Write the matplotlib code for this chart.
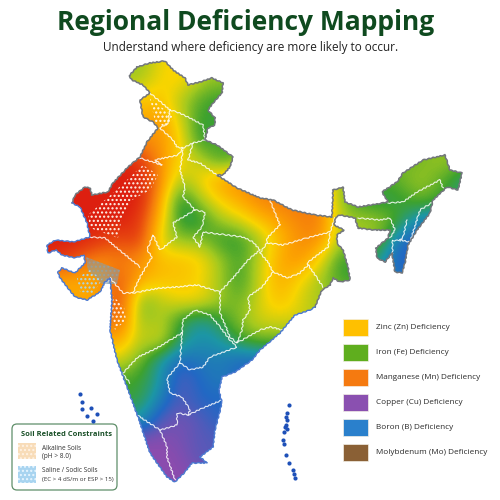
import numpy as np
import matplotlib
matplotlib.use("Agg")
import matplotlib.pyplot as plt
from matplotlib.colors import LinearSegmentedColormap
from matplotlib.patches import Polygon, Rectangle, FancyBboxPatch

TITLE = "Regional Deficiency Mapping"
SUBTITLE = "Understand where deficiency are more likely to occur."
LEGEND_LABELS = ["Zinc (Zn) Deficiency", "Iron (Fe) Deficiency", "Manganese (Mn) Deficiency",
                 "Copper (Cu) Deficiency", "Boron (B) Deficiency", "Molybdenum (Mo) Deficiency"]
LEGEND_COLORS = ["#FFC000", "#5FAE1E", "#F57A10", "#8A50B0", "#2A80CC", "#8A6035"]

# Deficiency index: 0 red ... 4 yellow ... 6 green ... 8 blue, 9 purple
# rows y = 60..480 step 20, columns x = 40..480 step 20 (map units)
FIELD = np.array([
 [5,5,5,5,5,5.2,4.2,3.8,4.6,5,5,5,5,5,5,5,5,5,5,5,5,5,5],
 [5,5,5,5,5,5,4,3.8,4.8,5.2,5,5,5,5,5,5,5,5,5,5,5,5,5],
 [4,4,4,4,3.5,3.6,3.6,4.8,5.8,6.2,6,6,6,6,6,6,6,6,6,6,6,6,6],
 [3,3,3,3,3,3.2,2.6,4.4,6.2,6,6,6,6,6,6,6,6,6,6,6,6,6,6],
 [1,1,1,1,2,2.4,2.5,3.8,6.4,5.6,6,6,6,6,6,6,6,6,6,5.5,5.2,6,6],
 [0,0,0,0,0.2,0.6,2.5,4,4.6,6.2,5.5,4,4,5,5,5,5,5.5,5.5,5.5,5,5.2,6],
 [0,0,0,0,0,0,2.2,5,4,2.8,2.4,2.2,2,2,3,5,5.5,5.8,5.6,5,5.6,6.6,6.6],
 [0,0,0,0,0,0,2.8,6.6,5,3.8,3,2.2,2,1.8,2,5.2,6.2,6.5,6.2,5.5,6,6.5,6.5],
 [0,0,0,0,0,0.6,3.4,6.5,6.4,5,4.4,3.4,2.8,2.2,2,4.8,5,5,6,7.6,7.6,7,7],
 [0,0,0,0.6,1.2,0.6,4.5,5.2,5.2,6.2,6.2,5,3.4,2.4,2.4,5,5,5.5,8,8.2,8,7,7],
 [0.4,0.6,1.6,2.4,2,2.5,3.5,3.5,3.8,5,6,4.6,3,2.5,4,6.2,6,7,8.2,8,8,8,8],
 [3,3,3,3,1.2,3,3.5,3.6,4,5,6.2,4.5,3,4,5,6,6,7,8,8,8,8,8],
 [3,3,3,3,0.6,5.6,4.8,4,4,5,5.6,4.4,3.4,4.4,5,5,5,5,5,5,5,5,5],
 [2.5,2.5,2.5,2.5,1.2,5.4,4.6,6.2,7,6.2,5.2,4.4,4.4,4.4,5,5,5,5,5,5,5,5,5],
 [3,3,3,3,3,4.8,4.3,6.5,7.2,7,6,5.5,5.5,5.5,5,5,5,5,5,5,5,5,5],
 [4.5,4.5,4.5,4.5,4.5,5.5,7,8,7.6,7.5,8,8,8,8,8,8,8,8,8,8,8,8,8],
 [6,6,6,6,6,6,7,8.5,8,7.5,8,8,8,8,8,8,8,8,8,8,8,8,8],
 [6,6,6,6,6,6.2,7.5,8.5,8,8,8,8,8,8,8,8,8,8,8,8,8,8,8],
 [7,7,7,7,7,7,8.5,8.8,8.5,8,8,8,8,8,8,8,8,8,8,8,8,8,8],
 [9,9,9,9,9,9,9,8.8,8.5,8.5,8,8,8,8,8,8,8,8,8,8,8,8,8],
 [9,9,9,9,9,9,9,9,8.5,8.5,8,8,8,8,8,8,8,8,8,8,8,8,8],
 [9,9,9,9,9,9,9,9,9,9,9,9,9,9,9,9,9,9,9,9,9,9,9],
])

# National boundary, land part then coast part (map units)
LAND_X = [72,75,85,90,92,108,113,128,140,147,158,153,143,140,150,143,132,129,137,150,165,173,185,188,200,212,223,222,213,208,215,215,208,205,217,233,230,223,217,220,237,260,273,292,315,332,333,343,345,358,383,388,382,397,403,423,445,450,462,458,447,433,430,417,408,405,402,395,392,385,377,376,388,390,373,358,355,340,336,334,344,337,337,343,348,350,340,333,330,322]
LAND_Y = [203,195,187,188,195,192,183,167,157,142,128,122,117,100,93,85,80,76,67,63,61,70,78,85,82,78,83,93,103,110,118,125,128,140,145,157,167,175,175,177,188,198,200,210,215,217,190,187,202,207,203,202,192,182,173,160,155,170,173,190,187,200,213,230,245,263,273,272,253,262,258,248,238,230,230,228,218,215,217,225,230,235,243,250,267,280,282,278,285,290]
COAST_X = [315,310,295,280,260,252,235,222,219,222,215,213,200,207,192,185,175,167,150,138,127,117,110,112,110,105,100,87,75,60,58,62,75,85,84,75,62,56,48,47,56,73,90,87,80]
COAST_Y = [307,310,315,333,350,360,372,377,390,403,430,447,457,463,463,472,482,477,453,417,387,360,330,300,278,282,292,300,297,278,272,268,273,263,255,258,255,250,253,245,240,242,237,223,207]

STATE_LINES = [
 [(150,93),(170,110),(168,123),(160,128)], [(170,110),(177,112),(190,118),(203,125),(205,140)],
 [(160,128),(173,140),(177,147),(183,148),(193,143),(205,140)], [(183,148),(178,155),(155,160),(162,165),(140,158)],
 [(193,143),(188,160),(200,163),(217,175)],
 [(183,150),(180,170),(185,187),(183,197),(195,210),(205,212),(202,227),(193,237),(200,247),(203,232),(227,235),(243,237),(253,242),(260,250),(248,260),(233,278),(220,292)],
 [(195,210),(173,223),(177,237),(160,250),(153,235),(147,250),(152,257),(140,277),(133,293),(123,293),(110,278)],
 [(90,237),(105,238),(123,253),(140,267)],
 [(133,293),(160,288),(177,287),(197,285),(220,292),(220,313),(230,337),(237,343)],
 [(270,200),(275,213),(280,225),(267,238),(267,243),(283,245),(307,238),(330,232),(335,218)],
 [(330,233),(328,247),(307,263),(317,278),(323,287)], [(267,243),(260,253),(268,262),(273,272),(288,278),(300,273),(308,265)],
 [(273,272),(262,287),(248,297),(250,310),(243,320),(242,330),(237,343),(260,330),(270,327),(283,330)],
 [(182,333),(183,320),(195,310),(210,315),(220,327),(230,340),(237,347),(210,357),(203,367),(190,370),(180,363),(182,333)],
 [(123,373),(138,357),(157,348),(182,333)],
 [(180,363),(167,378),(170,393),(182,397),(190,410),(188,415),(177,413),(177,425),(160,430),(137,415)],
 [(160,430),(167,447),(167,457),(175,480)], [(188,415),(203,408),(222,400)], [(122,373),(130,383)],
 [(358,218),(380,220),(390,218),(395,230),(390,238)], [(388,203),(403,202),(417,192),(440,180),(443,188)],
 [(407,220),(403,237),(400,240),(410,242),(420,210),(433,202)], [(392,240),(392,253)], [(392,240),(400,240)],
]

ISLAND_X = [80,82,82,91,97,87,93,289,287,286,287,286,285,287,284,283,284,286,289,293,294,295]
ISLAND_Y = [394,402,409,408,414,416,421,405,413,417,420,425,427,429,432,440,444,455,463,470,474,478]

ALKALINE = [
 [(88,215),(115,191),(143,165),(158,175),(150,190),(132,200),(122,217),(118,238),(90,228)],
 [(150,98),(165,110),(174,118),(165,127),(155,122)],
 [(113,296),(124,307),(126,320),(115,330),(111,310)],
]
SALINE_BLUE = [(77,278),(90,270),(102,280),(93,293),(80,292)]
SALINE_GREY = [(86,257),(120,270),(117,284),(102,284),(88,270)]

plt.rcParams["font.family"] = ["Open Sans", "Noto Sans", "DejaVu Sans"]
fig = plt.figure(figsize=(5, 5), dpi=100)
ax = fig.add_axes([0, 0, 1, 1])
ax.set_xlim(0, 500); ax.set_ylim(500, 0); ax.axis("off")

cmap = LinearSegmentedColormap.from_list("def", [
 (0/9, "#dd1f10"), (1/9, "#e8480f"), (2/9, "#f57c0c"), (3/9, "#fda800"), (4/9, "#f8d500"),
 (5/9, "#a3c91f"), (6/9, "#3ea22e"), (7/9, "#1c96a6"), (8/9, "#2268c4"), (9/9, "#8a4cae")])
outline = list(zip(LAND_X, LAND_Y)) + list(zip(COAST_X, COAST_Y))
clip = Polygon(outline, closed=True, transform=ax.transData, facecolor="none", edgecolor="none")
ax.add_patch(clip)
im = ax.imshow(FIELD, extent=(30, 490, 490, 50), cmap=cmap, vmin=0, vmax=9, aspect="auto",
               interpolation="bicubic", zorder=1)
im.set_clip_path(clip)
ax.set_xlim(0, 500); ax.set_ylim(500, 0)

for pts in ALKALINE:
    p = Polygon(pts, closed=True, facecolor="none", edgecolor="#fff6ee", hatch="....", lw=0, zorder=2)
    ax.add_patch(p); p.set_clip_path(clip)
p = Polygon(SALINE_GREY, closed=True, facecolor="#8a9ea8", alpha=0.55, edgecolor="#7fa8c0", hatch="....", lw=0, zorder=2)
ax.add_patch(p)
p = Polygon(SALINE_BLUE, closed=True, facecolor="none", edgecolor="#a8d8f0", hatch="....", lw=0, zorder=2)
ax.add_patch(p)

for line in STATE_LINES:
    xs, ys = zip(*line)
    l, = ax.plot(xs, ys, color="white", lw=0.8, alpha=0.85, zorder=3)
    l.set_sketch_params(scale=0.6, length=5, randomness=2)

l1, = ax.plot(LAND_X + COAST_X[:1], LAND_Y + COAST_Y[:1], color="#72767c", lw=1.1, zorder=4)
l2, = ax.plot(COAST_X + LAND_X[:1], COAST_Y + LAND_Y[:1], color="#4a78d0", lw=1.0, zorder=4)
for l in (l1, l2):
    l.set_sketch_params(scale=0.45, length=5, randomness=2)
ax.scatter(ISLAND_X, ISLAND_Y, s=9, color="#1e50b8", marker="o", lw=0, zorder=4)

ax.text(246, 23, TITLE, ha="center", va="center", fontsize=19, fontweight="bold", color="#0f4a1f")
ax.text(251, 48, SUBTITLE, ha="center", va="center", fontsize=8.5, color="#222222")

for i, (lab, col) in enumerate(zip(LEGEND_LABELS, LEGEND_COLORS)):
    y = 319 + i * 25
    ax.add_patch(Rectangle((343, y), 25, 16.5, facecolor=col, edgecolor="#f3efe6", lw=0.5, zorder=3))
    ax.text(376, y + 8.5, lab, ha="left", va="center", fontsize=5.9, color="#2a2a2a")

ax.add_patch(FancyBboxPatch((12, 424), 105, 66, boxstyle="round,pad=0,rounding_size=5",
                            facecolor="white", edgecolor="#5f8f6a", lw=0.9, zorder=3,
                            mutation_aspect=1))
ax.text(21, 434, "Soil Related Constraints", fontsize=5.4, fontweight="bold", color="#1a5028", va="center", zorder=5)
ax.add_patch(Rectangle((18, 443), 18, 16, facecolor="#f8dcb8", edgecolor="#fff2e4", hatch="....", lw=0, zorder=4))
ax.add_patch(Rectangle((18, 466), 18, 17, facecolor="#a8d4f0", edgecolor="#e8f6ff", hatch="....", lw=0, zorder=4))
ax.text(42, 448, "Alkaline Soils", fontsize=4.7, color="#333333", va="center", zorder=5)
ax.text(42, 457, "(pH > 8.0)", fontsize=4.7, color="#333333", va="center", zorder=5)
ax.text(42, 471, "Saline / Sodic Soils", fontsize=4.7, color="#333333", va="center", zorder=5)
ax.text(42, 479.5, "(EC > 4 dS/m or ESP > 15)", fontsize=4.4, color="#333333", va="center", zorder=5)

fig.savefig("out.png", dpi=100)
